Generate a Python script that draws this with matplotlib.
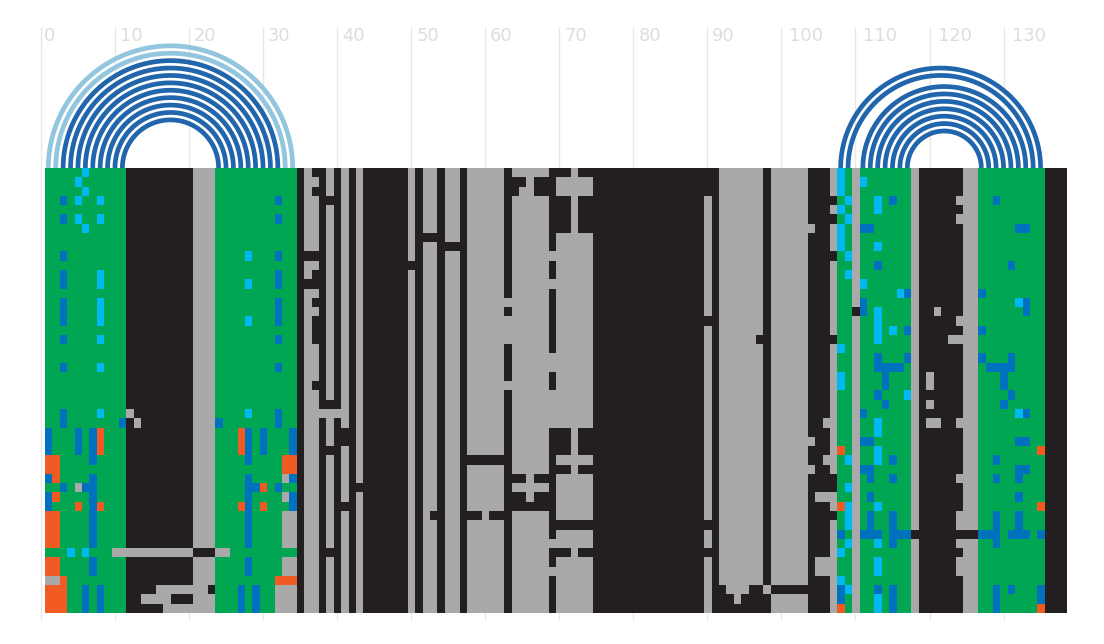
import matplotlib
matplotlib.use("Agg")
import matplotlib.pyplot as plt
from matplotlib.colors import ListedColormap
import numpy as np

# K unpaired/black, A gray, G green, B blue, C cyan, O orange
codes = "KAGBCO"
palette = ["#231f20", "#a9a9a9", "#00a651", "#0071bc", "#00b9f2", "#f15a22"]

# what most rows look like, as (code, number of columns)
base_runs = [("G", 11), ("K", 9), ("A", 3), ("G", 11), ("K", 1), ("A", 2), ("K", 1), ("A", 1),
             ("K", 1), ("A", 1), ("K", 1), ("A", 1), ("K", 6), ("A", 1), ("K", 1), ("A", 2),
             ("K", 1), ("A", 2), ("K", 1), ("A", 5), ("K", 1), ("A", 5), ("K", 1), ("A", 5),
             ("K", 15), ("A", 1), ("K", 1), ("A", 6), ("K", 1), ("A", 5), ("K", 3), ("A", 1),
             ("G", 2), ("A", 1), ("G", 7), ("A", 1), ("K", 6), ("A", 2), ("G", 9), ("K", 3)]
n_rows = 48

# cells of each row that differ from base_runs
row_edits = {
    0: "C5 K36-37 K69-70 K72-73 K89 C107",
    1: "C4 K63-64 K66-67 K89 C107 C110",
    2: "C5 K36 K63 K66-67 K89 C107",
    3: "B2 C4 C7 B31 K38 K69-70 K72-73 K106 C108 C112 B114 A123 B128",
    4: "K69-70 K72-73 C107 C112",
    5: "B2 C4 C7 B31 K69-70 K72-73 K106 C108 A123",
    6: "C5 K69-70 K72-73 A103 C107 B110-111 B131-132",
    7: "K51-52 C107",
    8: "K54-55 C107 C112",
    9: "B2 C27 B31 K35-36 A68 K106 C108",
    10: "K49 B112 B130",
    11: "B2 C7 B31 K36 C108",
    12: "B2 C7 C27 B31 K35-36 A68 C110",
    13: "C115 B116 B126",
    14: "B2 C7 B31 K36 A62 B110 C131 B132",
    15: "B2 C7 B31 K109 B110 C112 A120 B132",
    16: "B2 C7 C27 B31 K36 A62 K89 C112 A123",
    17: "K36 A62 C112 C114 B116 B126",
    18: "B2 C7 B31 K36 A62 K96 K106 C112 A122-123",
    19: "C107",
    20: "A68 B112 B116 B126 B130",
    21: "B2 C7 B31 A68 B112-115 B127-130",
    22: "C107 B113 A119 B129",
    23: "K36 A62 C107 B113 A119 B129",
    24: "A68 B112 C116 B130",
    25: "K38 A68 B113 A119 B129",
    26: "B2 C7 A11 C27 B31 A37 A39 A68 B110 C131 B132",
    27: "B2 B10 A12 B23 B31 A68 A105 C112 A119-120 A123",
    28: "B0 B4 B6 O7 O26 B27 B29 B33 K40 K69-70 K72-73 C112",
    29: "B0 B4 B6 O7 O26 B27 B29 B33 K40 K69-70 K72-73 A103 B110-111 B131-132",
    30: "B0 B4 B6 O7 O26 B27 B29 B33 K38 K69-70 K72-73 O107 C112 O134",
    31: "O0-1 B6 B27 O32-33 K57-61 A105 C108 C112 B114 B128",
    32: "O0-1 O32-33 K69-70 K72-73 A103 B110-111 B131-132",
    33: "B0 O1 B6 B27 A32 B33 K63-64 K66-67 K106 B111 B114 A123 B128 B131",
    34: "B2 A4 B5-6 B27-28 O29 B31 K42 K106 C108",
    35: "B0 O1 B6 B27 A32 B33 K63-64 K66-67 A104-105 B111 B131",
    36: "B0 O4 B6 O7 O26 B27 O29 B33 K40 K63-67 O107 C108 C112 O134",
    37: "O0-1 B6 B27 A32-33 K52 K57-58 K60-61 K106 C108 B111 B114 A123 B128 B131",
    38: "O0-1 B6 B27 A32-33 K69-73 K89 C108 B111 B114 A123 B128 B131",
    39: "O0-1 B6 B27 A32-33 B107 B110-112 B114-116 K117 K124-125 B126-128 B130-132 B134",
    40: "O0-1 B6 B27 A32-33 A68 C108 C112 B114 A123 B128",
    41: "C3 C5 A9-19 K20-22 A23-24 K38 K69-70 K72-73 K89 C107",
    42: "O0-1 B6 B27 A32-33 A104-105 C112 A123",
    43: "O0-1 B6 B27 A32-33 A68 A104-105 C112 A123",
    44: "A0-1 O2 O31-33 C107",
    45: "O0-2 B5 B7 A15-21 K22 B26 B28 A31-33 K91 K95-96 A97 K98-102 B107 C108 B112 B114 B128 B130 B134",
    46: "O0-2 B5 B7 A13-16 B26 B28 A31-33 K91-92 K94-96 B107 C112 B114 B128 B134",
    47: "O0-2 B5 B7 A16-19 B26 B28 A31-33 K91-96 O107 C112 B114 B128 O134",
}

# paired columns drawn as arcs above the matrix
weak_pairs = [(0, 33), (1, 32)]
strong_pairs = [(2, 31), (3, 30), (4, 29), (5, 28), (6, 27), (7, 26), (8, 25), (9, 24), (10, 23),
                (107, 134), (108, 133), (110, 132), (111, 131), (112, 130), (113, 129),
                (114, 128), (115, 127), (116, 126)]
tick_values = np.arange(0, 140, 10)

base_row = []
for code, count in base_runs:
    base_row += [codes.index(code)] * count
matrix = np.tile(base_row, (n_rows, 1))
for r, edits in row_edits.items():
    for e in edits.split():
        first, _, last = e[1:].partition("-")
        matrix[r, int(first):int(last or first) + 1] = codes.index(e[0])

W, H = 1104, 644
x0, xs = 40.9, 7.405   # pixel of x=0, pixels per column
y0, ys = 168.0, 9.27   # pixel of top of matrix, pixels per row

fig = plt.figure(figsize=(W / 100, H / 100), dpi=100)
ax = fig.add_axes([0, 0, 1, 1])
ax.set_axis_off()

ax.imshow(matrix, cmap=ListedColormap(palette), vmin=0, vmax=5, aspect="auto",
          interpolation="nearest", extent=(0.5, matrix.shape[1] + 0.5, n_rows, 0), zorder=2)
ax.set_xlim(-x0 / xs, (W - x0) / xs)
ax.set_ylim((H - y0) / ys, -y0 / ys)

ax.vlines(tick_values, (27 - y0) / ys, (620 - y0) / ys, color="#e8e8e8", lw=1, zorder=1)
for v in tick_values:
    # longer labels sit a little further from their line
    off = {1: 3, 2: 5, 3: 8}[len(str(v))]
    ax.text(v + off / xs, (41 - y0) / ys, str(v), color="#dddddd", fontsize=12.9,
            ha="left", va="baseline", zorder=1)

t = np.linspace(0, np.pi, 240)
for pairs, color in ((weak_pairs, "#92c5de"), (strong_pairs, "#2166ac")):
    for a, b in pairs:
        mid = (a + b) / 2 + 1
        rad = (b - a) / 2
        ax.plot(mid + rad * np.cos(t), -rad * np.sin(t) * xs / ys, color=color, lw=3.4,
                solid_capstyle="butt", zorder=3)

fig.savefig("out.png", dpi=100, facecolor="white")
